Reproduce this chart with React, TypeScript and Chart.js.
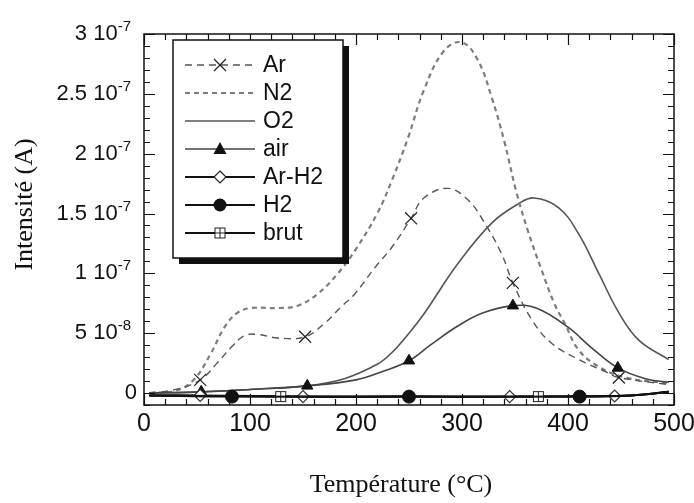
import React, { useEffect, useRef } from "react";
import { Chart, registerables } from "chart.js";

Chart.register(...registerables);

// Intensity values are in units of 1e-7 A, temperatures in °C
const arTemps = [5, 30, 53, 69, 82, 95, 107, 126, 152, 170, 186, 199, 218, 234, 252, 264, 287, 306, 320, 337, 348, 366, 384, 410, 435, 448, 495];
const arValues = [0, 0.03, 0.11, 0.25, 0.38, 0.48, 0.49, 0.46, 0.47, 0.58, 0.72, 0.83, 1.05, 1.22, 1.46, 1.63, 1.71, 1.61, 1.44, 1.17, 0.92, 0.61, 0.42, 0.28, 0.18, 0.13, 0.07];
const arMarkers = [53, 152, 252, 348, 448];

const n2Temps = [5, 30, 47, 63, 76, 88, 101, 126, 145, 164, 183, 199, 220, 234, 249, 264, 283, 300, 315, 328, 340, 351, 362, 375, 387, 397, 410, 429, 454, 495];
const n2Values = [0, 0.02, 0.11, 0.33, 0.55, 0.67, 0.71, 0.71, 0.73, 0.83, 1.0, 1.19, 1.5, 1.78, 2.13, 2.53, 2.86, 2.93, 2.78, 2.47, 2.1, 1.69, 1.36, 1.03, 0.75, 0.58, 0.36, 0.22, 0.13, 0.08];
const n2Markers: number[] = [];

const o2Temps = [5, 55, 100, 154, 189, 220, 233, 250, 264, 296, 328, 353, 368, 391, 410, 429, 448, 467, 495];
const o2Values = [0, 0.01, 0.03, 0.06, 0.12, 0.24, 0.33, 0.5, 0.66, 1.08, 1.42, 1.58, 1.63, 1.55, 1.33, 1.0, 0.67, 0.44, 0.28];
const o2Markers: number[] = [];

const airTemps = [5, 54, 100, 154, 200, 225, 250, 270, 296, 320, 348, 370, 400, 422, 447, 473, 495];
const airValues = [0, 0.01, 0.03, 0.06, 0.11, 0.18, 0.27, 0.4, 0.56, 0.67, 0.73, 0.71, 0.55, 0.38, 0.21, 0.12, 0.09];
const airMarkers = [54, 154, 250, 348, 447];

const arH2Temps = [5, 53, 150, 250, 345, 444, 470, 495];
const arH2Values = [-0.02, -0.02, -0.03, -0.03, -0.03, -0.025, -0.015, 0.01];
const arH2Markers = [53, 150, 345, 444];

const h2Temps = [5, 83, 250, 411, 460, 495];
const h2Values = [-0.02, -0.03, -0.03, -0.03, -0.02, 0.01];
const h2Markers = [83, 250, 411];

const brutTemps = [5, 129, 250, 372, 460, 495];
const brutValues = [-0.02, -0.03, -0.03, -0.03, -0.02, 0.01];
const brutMarkers = [129, 372];

const seriesNames = ["Ar", "N2", "O2", "air", "Ar-H2", "H2", "brut"];

const xTickValues = [0, 100, 200, 300, 400, 500];
const xTickLabels = ["0", "100", "200", "300", "400", "500"];
const yTickValues = [0, 0.5, 1, 1.5, 2, 2.5, 3];
const yTickBases = ["0", "5 10", "1 10", "1.5 10", "2 10", "2.5 10", "3 10"];
const yTickExps = ["", "-8", "-7", "-7", "-7", "-7", "-7"];

const X_MIN = 0, X_MAX = 500, X_MINOR = 20;
const Y_MIN = -0.1, Y_MAX = 3, Y_MINOR = 0.1;

const SANS = '"Liberation Sans", Arial, sans-serif';
const SERIF = '"Liberation Serif", "Times New Roman", serif';

function makeSquarePlus(): HTMLCanvasElement {
  const c = document.createElement("canvas");
  c.width = 13;
  c.height = 13;
  const g = c.getContext("2d")!;
  g.fillStyle = "#fff";
  g.fillRect(1, 1, 11, 11);
  g.strokeStyle = "#222";
  g.lineWidth = 1;
  g.strokeRect(1.5, 1.5, 10, 10);
  g.beginPath();
  g.moveTo(6.5, 1.5);
  g.lineTo(6.5, 11.5);
  g.moveTo(1.5, 6.5);
  g.lineTo(11.5, 6.5);
  g.stroke();
  return c;
}

type MarkerKind = "x" | "none" | "tri" | "diamond" | "circle" | "sqplus";

function drawMarker(ctx: CanvasRenderingContext2D, kind: MarkerKind, x: number, y: number, img: HTMLCanvasElement) {
  ctx.save();
  ctx.setLineDash([]);
  ctx.strokeStyle = "#222";
  ctx.fillStyle = "#111";
  ctx.lineWidth = 1.2;
  if (kind === "x") {
    const d = 6;
    ctx.beginPath();
    ctx.moveTo(x - d, y - d);
    ctx.lineTo(x + d, y + d);
    ctx.moveTo(x - d, y + d);
    ctx.lineTo(x + d, y - d);
    ctx.stroke();
  } else if (kind === "tri") {
    ctx.beginPath();
    ctx.moveTo(x, y - 7);
    ctx.lineTo(x + 6.5, y + 5);
    ctx.lineTo(x - 6.5, y + 5);
    ctx.closePath();
    ctx.fill();
  } else if (kind === "diamond") {
    ctx.fillStyle = "#fff";
    ctx.beginPath();
    ctx.moveTo(x, y - 6);
    ctx.lineTo(x + 6, y);
    ctx.lineTo(x, y + 6);
    ctx.lineTo(x - 6, y);
    ctx.closePath();
    ctx.fill();
    ctx.stroke();
  } else if (kind === "circle") {
    ctx.beginPath();
    ctx.arc(x, y, 6.5, 0, Math.PI * 2);
    ctx.fill();
  } else if (kind === "sqplus") {
    ctx.drawImage(img, x - img.width / 2, y - img.height / 2);
  }
  ctx.restore();
}

export default function App() {
  const ref = useRef<HTMLCanvasElement | null>(null);

  useEffect(() => {
    if (!ref.current) return;
    const sqPlus = makeSquarePlus();

    const mk = (temps: number[], values: number[]) => temps.map((t, i) => ({ x: t, y: values[i] }));
    const radiusFor = (temps: number[], markers: number[], r: number) => (c: any) =>
      markers.includes(temps[c.dataIndex]) ? r : 0;

    const markerKinds: MarkerKind[] = ["x", "none", "none", "tri", "diamond", "circle", "sqplus"];

    const datasets: any[] = [
      {
        label: seriesNames[0],
        data: mk(arTemps, arValues),
        borderColor: "#555",
        borderWidth: 1.4,
        borderDash: [7, 5],
        pointStyle: "crossRot",
        pointRadius: radiusFor(arTemps, arMarkers, 8.5),
        pointBorderColor: "#222",
        pointBorderWidth: 1.2,
        order: 3,
      },
      {
        label: seriesNames[1],
        data: mk(n2Temps, n2Values),
        borderColor: "#7d7d7d",
        borderWidth: 2.2,
        borderDash: [5, 4],
        pointRadius: radiusFor(n2Temps, n2Markers, 0),
        order: 4,
      },
      {
        label: seriesNames[2],
        data: mk(o2Temps, o2Values),
        borderColor: "#555",
        borderWidth: 1.6,
        pointRadius: radiusFor(o2Temps, o2Markers, 0),
        order: 5,
      },
      {
        label: seriesNames[3],
        data: mk(airTemps, airValues),
        borderColor: "#444",
        borderWidth: 1.6,
        pointStyle: "triangle",
        pointRadius: radiusFor(airTemps, airMarkers, 6.5),
        pointBackgroundColor: "#111",
        pointBorderColor: "#111",
        pointBorderWidth: 1,
        order: 2,
      },
      {
        label: seriesNames[4],
        data: mk(arH2Temps, arH2Values),
        borderColor: "#111",
        borderWidth: 2,
        pointStyle: "rectRot",
        pointRadius: radiusFor(arH2Temps, arH2Markers, 6),
        pointBackgroundColor: "#fff",
        pointBorderColor: "#333",
        pointBorderWidth: 1.2,
        order: 1,
      },
      {
        label: seriesNames[5],
        data: mk(h2Temps, h2Values),
        borderColor: "#111",
        borderWidth: 2,
        pointStyle: "circle",
        pointRadius: radiusFor(h2Temps, h2Markers, 6.5),
        pointBackgroundColor: "#111",
        pointBorderColor: "#111",
        pointBorderWidth: 1,
        order: 0,
      },
      {
        label: seriesNames[6],
        data: mk(brutTemps, brutValues),
        borderColor: "#111",
        borderWidth: 2,
        pointStyle: sqPlus,
        pointRadius: radiusFor(brutTemps, brutMarkers, 6),
        order: 0,
      },
    ];

    const decor = {
      id: "decor",
      afterDraw(chart: any) {
        const { ctx, chartArea: a, scales } = chart;
        const xs = scales.x;
        const ys = scales.y;
        ctx.save();
        ctx.setLineDash([]);
        ctx.strokeStyle = "#111";
        ctx.lineWidth = 1.5;
        ctx.strokeRect(a.left, a.top, a.right - a.left, a.bottom - a.top);

        // inward ticks, x axis (bottom & top)
        ctx.lineWidth = 1.2;
        ctx.beginPath();
        for (let v = X_MIN; v <= X_MAX + 1e-9; v += X_MINOR) {
          const px = Math.round(xs.getPixelForValue(v)) + 0.5;
          const major = xTickValues.includes(Math.round(v));
          const len = major ? 11 : 6;
          ctx.moveTo(px, a.bottom);
          ctx.lineTo(px, a.bottom - len);
          ctx.moveTo(px, a.top);
          ctx.lineTo(px, a.top + len);
        }
        // y axis (left & right)
        const nY = Math.round((Y_MAX - Y_MIN) / Y_MINOR);
        for (let i = 0; i <= nY; i++) {
          const v = Y_MIN + i * Y_MINOR;
          const py = Math.round(ys.getPixelForValue(v)) + 0.5;
          const major = yTickValues.some((t) => Math.abs(t - v) < 1e-6);
          const len = major ? 11 : 6;
          ctx.moveTo(a.left, py);
          ctx.lineTo(a.left + len, py);
          ctx.moveTo(a.right, py);
          ctx.lineTo(a.right - len, py);
        }
        ctx.stroke();

        // x tick labels
        ctx.fillStyle = "#111";
        ctx.font = `25px ${SANS}`;
        ctx.textAlign = "center";
        ctx.textBaseline = "middle";
        xTickValues.forEach((v, i) => {
          ctx.fillText(xTickLabels[i], xs.getPixelForValue(v), a.bottom + 19);
        });

        // y tick labels with exponent
        const right = a.left - 13;
        yTickValues.forEach((v, i) => {
          const py = ys.getPixelForValue(v);
          const exp = yTickExps[i];
          ctx.textAlign = "right";
          ctx.textBaseline = "middle";
          if (!exp) {
            ctx.font = `22px ${SANS}`;
            ctx.fillText(yTickBases[i], right + 6, py);
            return;
          }
          ctx.font = `15px ${SANS}`;
          const ew = ctx.measureText(exp).width;
          ctx.fillText(exp, right, py - 7);
          ctx.font = `22px ${SANS}`;
          ctx.fillText(yTickBases[i], right - ew, py);
        });

        // axis titles
        ctx.font = `26px ${SERIF}`;
        ctx.textAlign = "center";
        ctx.textBaseline = "middle";
        ctx.fillText("Température (°C)", (a.left + a.right) / 2 - 8, a.bottom + 80);
        ctx.save();
        ctx.translate(25, (a.top + a.bottom) / 2 - 15);
        ctx.rotate(-Math.PI / 2);
        ctx.fillText("Intensité (A)", 0, 0);
        ctx.restore();

        // legend box
        const bx = a.left + 29;
        const by = a.top + 6;
        const bw = 170;
        const bh = 218;
        ctx.fillStyle = "#111";
        ctx.fillRect(bx + 6, by + 6, bw, bh);
        ctx.fillStyle = "#fff";
        ctx.fillRect(bx, by, bw, bh);
        ctx.strokeStyle = "#111";
        ctx.lineWidth = 1.5;
        ctx.strokeRect(bx, by, bw, bh);

        chart.data.datasets.forEach((ds: any, i: number) => {
          const ry = by + 25 + i * 28;
          const x1 = bx + 12;
          const x2 = bx + 82;
          ctx.save();
          ctx.strokeStyle = ds.borderColor;
          ctx.lineWidth = ds.borderWidth;
          ctx.setLineDash(ds.borderDash || []);
          ctx.beginPath();
          ctx.moveTo(x1, ry);
          ctx.lineTo(x2, ry);
          ctx.stroke();
          ctx.restore();
          drawMarker(ctx, markerKinds[i], (x1 + x2) / 2, ry, sqPlus);
          ctx.fillStyle = "#111";
          ctx.font = `23px ${SANS}`;
          ctx.textAlign = "left";
          ctx.textBaseline = "middle";
          ctx.fillText(ds.label, x2 + 8, ry + 1);
        });
        ctx.restore();
      },
    };

    const chart = new Chart(ref.current, {
      type: "line",
      data: { datasets },
      options: {
        responsive: false,
        devicePixelRatio: 1,
        animation: false,
        layout: { padding: { left: 144, right: 20, top: 34, bottom: 98 } },
        elements: {
          line: { tension: 0.4, fill: false },
        },
        scales: {
          x: { type: "linear", min: X_MIN, max: X_MAX, display: false },
          y: { type: "linear", min: Y_MIN, max: Y_MAX, display: false },
        },
        plugins: {
          legend: { display: false },
          tooltip: { enabled: false },
        },
      },
      plugins: [decor],
    });
    return () => chart.destroy();
  }, []);

  return (
    <div style={{ position: "absolute", left: 0, top: 0, width: 694, height: 503, background: "#fff" }}>
      <canvas ref={ref} width={694} height={503} />
    </div>
  );
}
